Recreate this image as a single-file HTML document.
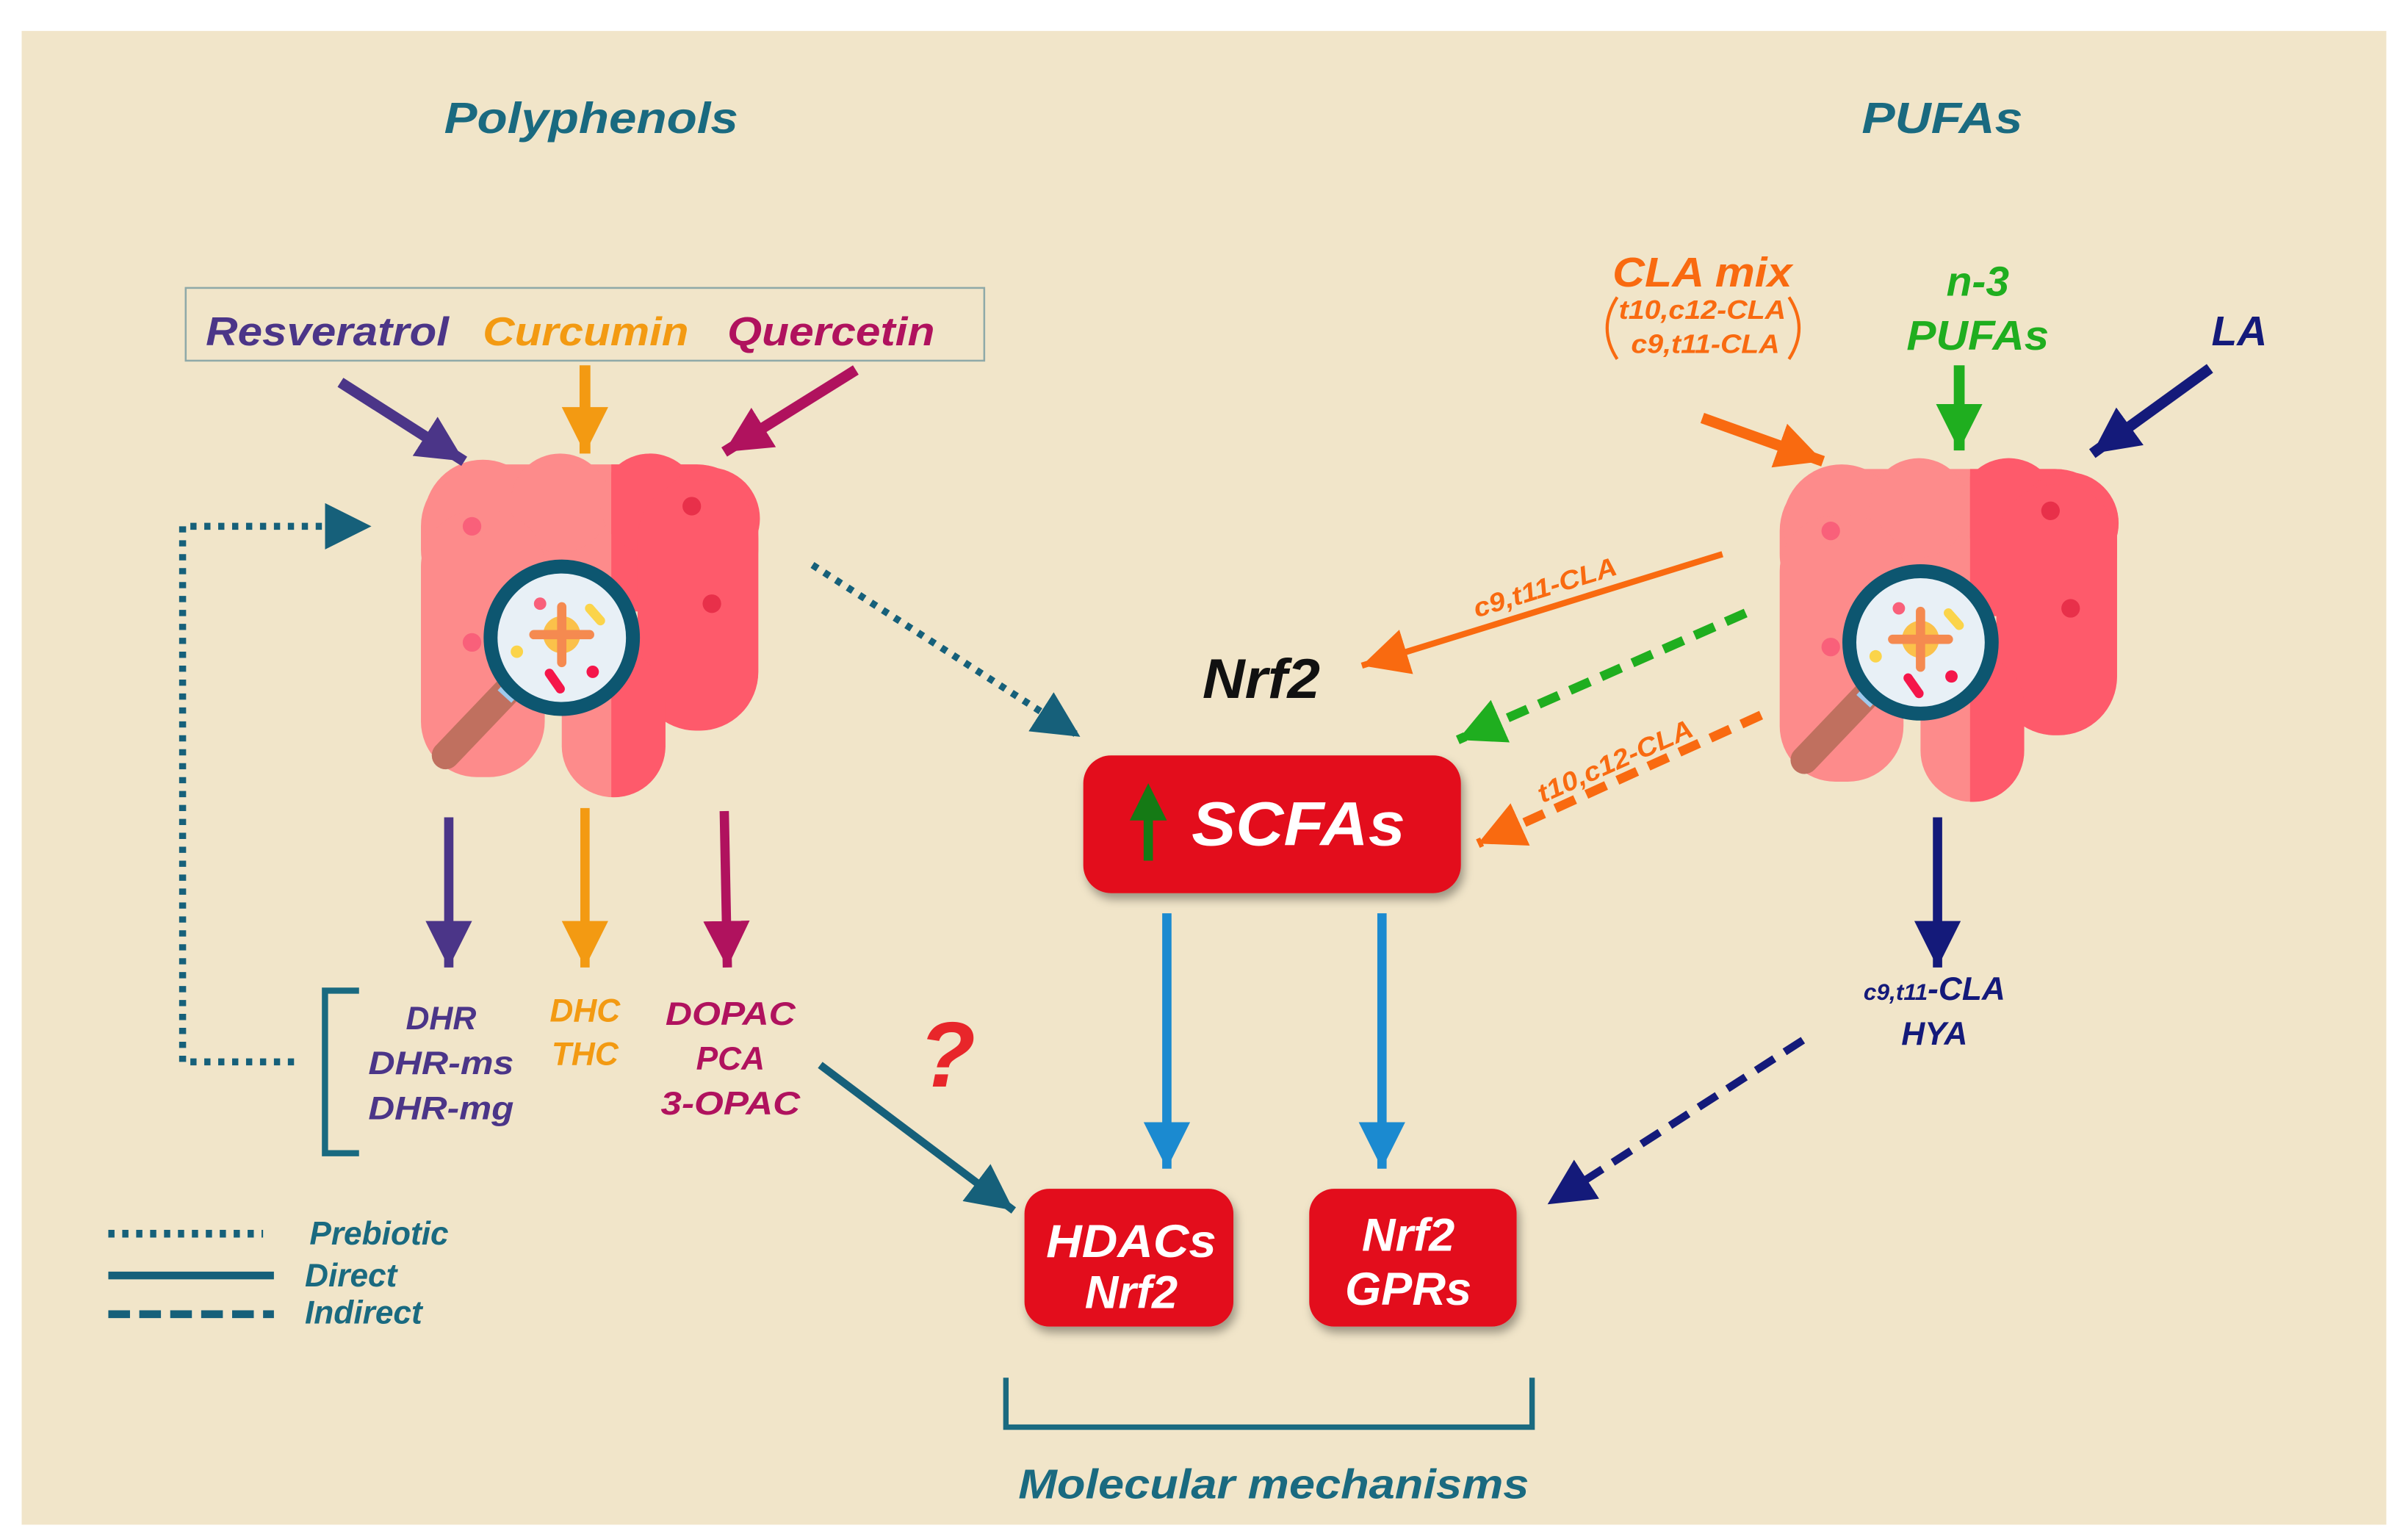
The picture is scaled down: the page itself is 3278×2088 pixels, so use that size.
<!DOCTYPE html>
<html><head><meta charset="utf-8"><style>
html,body{margin:0;padding:0;background:#fff;}
svg{display:block;}
text{font-family:"Liberation Sans",sans-serif;font-weight:bold;font-style:italic;}
</style></head><body>
<svg width="3278" height="2088" viewBox="0 0 1556 991" preserveAspectRatio="none" xmlns="http://www.w3.org/2000/svg">
<defs>
<marker id="mPur" markerUnits="userSpaceOnUse" markerWidth="40" markerHeight="40" refX="30" refY="15" orient="auto"><path d="M0,0 L30,15 L0,30 z" fill="#4b3588"/></marker>
<marker id="mOra" markerUnits="userSpaceOnUse" markerWidth="40" markerHeight="40" refX="30" refY="15" orient="auto"><path d="M0,0 L30,15 L0,30 z" fill="#f39a12"/></marker>
<marker id="mMag" markerUnits="userSpaceOnUse" markerWidth="40" markerHeight="40" refX="30" refY="15" orient="auto"><path d="M0,0 L30,15 L0,30 z" fill="#b0125e"/></marker>
<marker id="mOr2" markerUnits="userSpaceOnUse" markerWidth="40" markerHeight="40" refX="30" refY="15" orient="auto"><path d="M0,0 L30,15 L0,30 z" fill="#f96a10"/></marker>
<marker id="mGrn" markerUnits="userSpaceOnUse" markerWidth="40" markerHeight="40" refX="30" refY="15" orient="auto"><path d="M0,0 L30,15 L0,30 z" fill="#1fae1f"/></marker>
<marker id="mNav" markerUnits="userSpaceOnUse" markerWidth="40" markerHeight="40" refX="30" refY="15" orient="auto"><path d="M0,0 L30,15 L0,30 z" fill="#141a7a"/></marker>
<marker id="mTeal" markerUnits="userSpaceOnUse" markerWidth="40" markerHeight="40" refX="30" refY="15" orient="auto"><path d="M0,0 L30,15 L0,30 z" fill="#16607a"/></marker>
<marker id="mBlue" markerUnits="userSpaceOnUse" markerWidth="40" markerHeight="40" refX="30" refY="15" orient="auto"><path d="M0,0 L30,15 L0,30 z" fill="#1b8ad0"/></marker>
<clipPath id="rightHalf"><rect x="395" y="250" width="200" height="300"/></clipPath>
<g id="gutShape">
  <rect x="272" y="300" width="218" height="95" rx="40"/>
  <circle cx="312" cy="335" r="38"/><circle cx="362" cy="325" r="32"/><circle cx="420" cy="325" r="32"/><circle cx="458" cy="335" r="33"/>
  <rect x="272" y="330" width="80" height="172" rx="36"/>
  <rect x="412" y="310" width="78" height="162" rx="38"/>
  <rect x="363" y="420" width="67" height="95" rx="33"/>
</g>
<g id="gut">
  <use href="#gutShape" fill="#fd8b8b"/>
  <g clip-path="url(#rightHalf)"><use href="#gutShape" fill="#fe5a6b"/></g>
  <circle cx="305" cy="340" r="6" fill="#f9607a"/><circle cx="305" cy="415" r="6" fill="#f9607a"/>
  <circle cx="447" cy="327" r="6" fill="#e8304a"/><circle cx="460" cy="390" r="6" fill="#e8304a"/>
  <line x1="330" y1="444" x2="288" y2="488" stroke="#c0705f" stroke-width="18" stroke-linecap="round"/>
  <line x1="337" y1="438" x2="326" y2="450" stroke="#9fc9ec" stroke-width="12"/>
  <circle cx="363" cy="412" r="46" fill="#e8f0f6" stroke="#0d5670" stroke-width="9"/>
  <circle cx="363" cy="410" r="12" fill="#fbc14a"/>
  <line x1="363" y1="392" x2="363" y2="428" stroke="#f58a50" stroke-width="6" stroke-linecap="round"/>
  <line x1="345" y1="410" x2="381" y2="410" stroke="#f58a50" stroke-width="6" stroke-linecap="round"/>
  <line x1="355" y1="435" x2="362" y2="445" stroke="#f5164a" stroke-width="6" stroke-linecap="round"/>
  <line x1="381" y1="393" x2="388" y2="401" stroke="#fbd44a" stroke-width="6" stroke-linecap="round"/>
  <circle cx="349" cy="390" r="4" fill="#f9607a"/><circle cx="383" cy="434" r="4" fill="#f5164a"/><circle cx="334" cy="421" r="4" fill="#fbd44a"/>
</g>
<filter id="sh" x="-10%" y="-10%" width="130%" height="140%"><feDropShadow dx="2" dy="4" stdDeviation="3" flood-color="#000" flood-opacity="0.35"/></filter>
</defs>

<rect x="14" y="20" width="1528" height="965" fill="#f1e5c9"/>

<text x="382" y="86" font-size="28" fill="#1a6a80" text-anchor="middle" textLength="190" lengthAdjust="spacingAndGlyphs">Polyphenols</text>
<text x="1255" y="86" font-size="28" fill="#1a6a80" text-anchor="middle" textLength="104" lengthAdjust="spacingAndGlyphs">PUFAs</text>

<rect x="120" y="186" width="516" height="47" fill="none" stroke="#8fa9a8" stroke-width="1.2"/>
<text x="133" y="223" font-size="26" fill="#4b3588" textLength="157" lengthAdjust="spacingAndGlyphs">Resveratrol</text>
<text x="312" y="223" font-size="26" fill="#f39a12" textLength="133" lengthAdjust="spacingAndGlyphs">Curcumin</text>
<text x="470" y="223" font-size="26" fill="#b0125e" textLength="134" lengthAdjust="spacingAndGlyphs">Quercetin</text>

<use href="#gut"/>
<use href="#gut" transform="translate(878,3)"/>

<!-- polyphenol arrows -->
<line x1="220" y1="247" x2="300" y2="298" stroke="#4b3588" stroke-width="7" marker-end="url(#mPur)"/>
<line x1="378" y1="236" x2="378" y2="293" stroke="#f39a12" stroke-width="7" marker-end="url(#mOra)"/>
<line x1="553" y1="239" x2="468" y2="292" stroke="#b0125e" stroke-width="7" marker-end="url(#mMag)"/>

<line x1="290" y1="528" x2="290" y2="625" stroke="#4b3588" stroke-width="6" marker-end="url(#mPur)"/>
<line x1="378" y1="522" x2="378" y2="625" stroke="#f39a12" stroke-width="6" marker-end="url(#mOra)"/>
<line x1="468" y1="524" x2="470" y2="625" stroke="#b0125e" stroke-width="6" marker-end="url(#mMag)"/>

<g font-size="21" text-anchor="middle">
<text x="285" y="665" fill="#4b3588">DHR</text>
<text x="285" y="694" fill="#4b3588" textLength="94" lengthAdjust="spacingAndGlyphs">DHR-ms</text>
<text x="285" y="723" fill="#4b3588" textLength="94" lengthAdjust="spacingAndGlyphs">DHR-mg</text>
<text x="378" y="660" fill="#f39a12">DHC</text>
<text x="378" y="688" fill="#f39a12">THC</text>
<text x="472" y="662" fill="#b0125e" textLength="84" lengthAdjust="spacingAndGlyphs">DOPAC</text>
<text x="472" y="691" fill="#b0125e">PCA</text>
<text x="472" y="720" fill="#b0125e" textLength="90" lengthAdjust="spacingAndGlyphs">3-OPAC</text>
</g>

<path d="M232,640 L210,640 L210,745 L232,745" fill="none" stroke="#1a6a80" stroke-width="4"/>
<path d="M190,686 L118,686 L118,340 L240,340" fill="none" stroke="#16607a" stroke-width="4.5" stroke-dasharray="4,5" marker-end="url(#mTeal)"/>
<line x1="525" y1="365" x2="698" y2="476" stroke="#16607a" stroke-width="4.5" stroke-dasharray="4,5" marker-end="url(#mTeal)"/>

<text x="612" y="702" font-size="60" fill="#e8262a" text-anchor="middle">?</text>
<line x1="530" y1="688" x2="655" y2="782" stroke="#16607a" stroke-width="5" marker-end="url(#mTeal)"/>

<!-- legend -->
<line x1="70" y1="797" x2="170" y2="797" stroke="#16607a" stroke-width="5" stroke-dasharray="4,5"/>
<line x1="70" y1="824" x2="177" y2="824" stroke="#16607a" stroke-width="5"/>
<line x1="70" y1="849" x2="177" y2="849" stroke="#16607a" stroke-width="5" stroke-dasharray="14,6"/>
<g font-size="21" fill="#1a6a80">
<text x="200" y="804">Prebiotic</text>
<text x="197" y="831">Direct</text>
<text x="197" y="855">Indirect</text>
</g>

<!-- center -->
<text x="815" y="451" font-size="36" fill="#111" text-anchor="middle" textLength="76" lengthAdjust="spacingAndGlyphs">Nrf2</text>
<rect x="700" y="488" width="244" height="89" rx="18" fill="#e3101c" filter="url(#sh)"/>
<text x="770" y="546" font-size="40" fill="#fff" textLength="138" lengthAdjust="spacingAndGlyphs">SCFAs</text>
<line x1="742" y1="556" x2="742" y2="525" stroke="#157a15" stroke-width="6"/>
<path d="M730,530 L742,506 L754,530 z" fill="#157a15"/>

<line x1="754" y1="590" x2="754" y2="755" stroke="#1b8ad0" stroke-width="6" marker-end="url(#mBlue)"/>
<line x1="893" y1="590" x2="893" y2="755" stroke="#1b8ad0" stroke-width="6" marker-end="url(#mBlue)"/>

<rect x="662" y="768" width="135" height="89" rx="16" fill="#e3101c" filter="url(#sh)"/>
<rect x="846" y="768" width="134" height="89" rx="16" fill="#e3101c" filter="url(#sh)"/>
<g font-size="30" fill="#fff" text-anchor="middle">
<text x="731" y="812" textLength="110" lengthAdjust="spacingAndGlyphs">HDACs</text>
<text x="731" y="845">Nrf2</text>
<text x="910" y="808">Nrf2</text>
<text x="910" y="843">GPRs</text>
</g>

<path d="M650,890 L650,922 L990,922 L990,890" fill="none" stroke="#1a6a80" stroke-width="3.5"/>
<text x="823" y="968" font-size="27" fill="#1a6a80" text-anchor="middle" textLength="330" lengthAdjust="spacingAndGlyphs">Molecular mechanisms</text>

<!-- right -->
<text x="1100" y="185" font-size="27" fill="#f96a10" text-anchor="middle" textLength="116" lengthAdjust="spacingAndGlyphs">CLA mix</text>
<text x="1100" y="206" font-size="17" fill="#f96a10" text-anchor="middle" textLength="108" lengthAdjust="spacingAndGlyphs">t10,c12-CLA</text>
<text x="1102" y="228" font-size="17" fill="#f96a10" text-anchor="middle" textLength="96" lengthAdjust="spacingAndGlyphs">c9,t11-CLA</text>
<path d="M1045,192 Q1032,212 1045,232" fill="none" stroke="#f96a10" stroke-width="2"/>
<path d="M1156,192 Q1169,212 1156,232" fill="none" stroke="#f96a10" stroke-width="2"/>
<text x="1278" y="191" font-size="27" fill="#1fae1f" text-anchor="middle">n-3</text>
<text x="1278" y="226" font-size="27" fill="#1fae1f" text-anchor="middle" textLength="92" lengthAdjust="spacingAndGlyphs">PUFAs</text>
<text x="1447" y="223" font-size="27" fill="#141a7a" text-anchor="middle">LA</text>

<line x1="1100" y1="270" x2="1178" y2="298" stroke="#f96a10" stroke-width="7" marker-end="url(#mOr2)" transform="rotate(0)"/>
<line x1="1266" y1="236" x2="1266" y2="291" stroke="#1fae1f" stroke-width="7" marker-end="url(#mGrn)"/>
<line x1="1428" y1="238" x2="1352" y2="293" stroke="#141a7a" stroke-width="7" marker-end="url(#mNav)"/>

<line x1="1113" y1="358" x2="880" y2="430" stroke="#f96a10" stroke-width="4" marker-end="url(#mOr2)"/>
<text x="1000" y="385" font-size="17" fill="#f96a10" text-anchor="middle" transform="rotate(-17 1000 385)" textLength="96" lengthAdjust="spacingAndGlyphs">c9,t11-CLA</text>
<line x1="1128" y1="396" x2="942" y2="478" stroke="#1fae1f" stroke-width="6" stroke-dasharray="14,8" marker-end="url(#mGrn)"/>
<line x1="1138" y1="462" x2="955" y2="545" stroke="#f96a10" stroke-width="6" stroke-dasharray="14,8" marker-end="url(#mOr2)"/>
<text x="1046" y="497" font-size="17" fill="#f96a10" text-anchor="middle" transform="rotate(-24 1046 497)" textLength="108" lengthAdjust="spacingAndGlyphs">t10,c12-CLA</text>

<line x1="1252" y1="528" x2="1252" y2="625" stroke="#141a7a" stroke-width="6" marker-end="url(#mNav)"/>
<text x="1250" y="646" font-size="21" fill="#141a7a" text-anchor="middle"><tspan font-size="15">c9,t11</tspan>-CLA</text>
<text x="1250" y="675" font-size="21" fill="#141a7a" text-anchor="middle">HYA</text>
<line x1="1165" y1="672" x2="1000" y2="778" stroke="#141a7a" stroke-width="5" stroke-dasharray="14,8" marker-end="url(#mNav)"/>
</svg>
</body></html>
